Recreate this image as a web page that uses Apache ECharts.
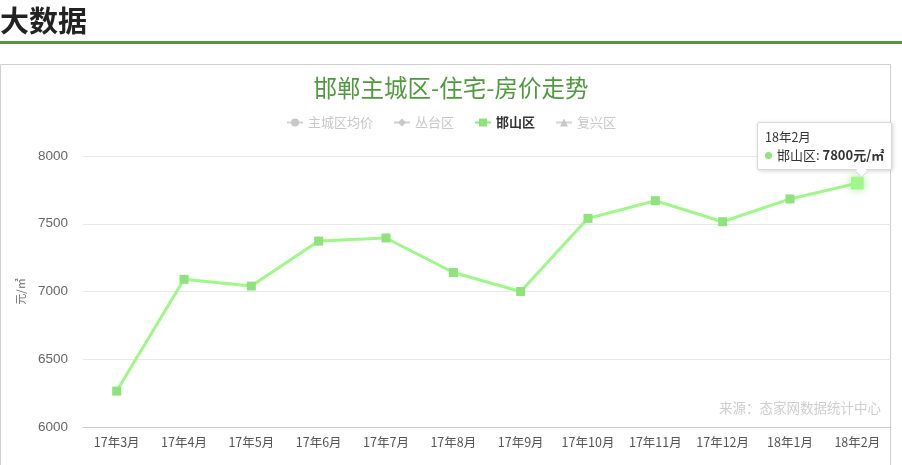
<!DOCTYPE html>
<html>
<head>
<meta charset="utf-8">
<script src="https://cdn.jsdelivr.net/npm/echarts@6/dist/echarts.min.js"></script>
<style>
html,body{margin:0;padding:0;background:#fff;}
#c{width:902px;height:465px;}
</style>
</head>
<body>
<div id="c"></div>
<script>
const categories = ['17年3月','17年4月','17年5月','17年6月','17年7月','17年8月','17年9月','17年10月','17年11月','17年12月','18年1月','18年2月'];
const hanshanValues = [6265, 7090, 7040, 7372, 7395, 7140, 7000, 7540, 7670, 7515, 7683, 7800];
const legendNames = ['主城区均价','丛台区','邯山区','复兴区'];
const yTicks = {min: 6000, max: 8000, interval: 500};
const unit = '元/㎡';

const chart = echarts.init(document.getElementById('c'), null, {renderer: 'canvas'});
const green = '#8fe27c';
const option = {
  animation: false,
  backgroundColor: '#fff',
  graphic: [
    {type: 'text', left: 0, top: 6, style: {text: '大数据', font: 'bold 29px "Noto Sans CJK SC"', fill: '#222'}},
    {type: 'rect', shape: {x: 0, y: 41, width: 902, height: 3}, style: {fill: '#5a9443'}},
    {type: 'rect', shape: {x: 0.5, y: 64.5, width: 890, height: 420}, style: {fill: 'none', stroke: '#cfcfcf', lineWidth: 1}, z: -1},
    {type: 'text', right: 21, top: 401, style: {text: '来源：态家网数据统计中心', font: '13.5px "Noto Sans CJK SC"', fill: '#cfcfcf'}}
  ],
  title: {
    text: '邯郸主城区-住宅-房价走势',
    left: 'center',
    top: 71,
    textStyle: {color: '#4f9a3c', fontSize: 23.5, fontWeight: 'normal', fontFamily: 'Noto Sans CJK SC'}
  },
  legend: {
    data: legendNames.map(function (n, i) {
      return {name: n, textStyle: {fontWeight: i === 2 ? 'bold' : 'normal'}};
    }),
    top: 111,
    left: 'center',
    itemWidth: 16,
    itemHeight: 10,
    itemGap: 20,
    inactiveColor: '#c8c8c8',
    textStyle: {color: '#333', fontSize: 13, fontFamily: 'Noto Sans CJK SC'},
    selected: {'主城区均价': false, '丛台区': false, '邯山区': true, '复兴区': false}
  },
  tooltip: {
    trigger: 'item',
    alwaysShowContent: true,
    transitionDuration: 0,
    backgroundColor: '#fff',
    borderColor: '#d8d8d8',
    borderWidth: 1,
    padding: [5, 7, 5, 7],
    extraCssText: 'box-shadow:1px 1px 4px rgba(0,0,0,0.18);border-radius:2px;overflow:visible;',
    position: function () { return [757, 122]; },
    formatter: function (p) {
      return '<div style="position:relative;font-family:\'Noto Sans CJK SC\';font-size:12.5px;color:#333;line-height:18px;">' +
        p.name + '<br/>' +
        '<span style="display:inline-block;width:7px;height:7px;border-radius:50%;background:' + green + ';margin-right:5px;vertical-align:1px;"></span>' +
        '<span style="font-size:13px;">' + p.seriesName + ': </span><b style="font-size:13px;">' + p.value + unit + '</b>' +
        '<div style="position:absolute;left:92px;bottom:-12px;width:8px;height:8px;background:#fff;border-right:1px solid #d8d8d8;border-bottom:1px solid #d8d8d8;transform:rotate(45deg);"></div>' +
        '</div>';
    }
  },
  grid: {left: 83, right: 11, top: 156, bottom: 38},
  xAxis: {
    type: 'category',
    data: categories,
    boundaryGap: true,
    axisLine: {lineStyle: {color: '#cccccc'}},
    axisTick: {length: 8, interval: 0, lineStyle: {color: '#cccccc'}},
    axisLabel: {color: '#555', fontSize: 12.5, margin: 9, interval: 0, fontFamily: 'Noto Sans CJK SC'}
  },
  yAxis: {
    type: 'value',
    min: yTicks.min,
    max: yTicks.max,
    interval: yTicks.interval,
    name: unit,
    nameLocation: 'middle',
    nameGap: 57,
    nameTextStyle: {color: '#666', fontSize: 11, fontFamily: 'Noto Sans CJK SC'},
    axisLine: {show: false},
    axisTick: {show: false},
    axisLabel: {color: '#666', fontSize: 13.5, margin: 15, formatter: function (v) { return String(v); }},
    splitLine: {lineStyle: {color: '#e8e8e8'}}
  },
  series: [
    {name: legendNames[0], type: 'line', data: [], symbol: 'circle', itemStyle: {color: '#999'}},
    {name: legendNames[1], type: 'line', data: [], symbol: 'diamond', itemStyle: {color: '#999'}},
    {
      name: legendNames[2], type: 'line', data: hanshanValues,
      symbol: 'rect', symbolSize: 9, showAllSymbol: true,
      lineStyle: {color: green, width: 3},
      itemStyle: {color: green},
      emphasis: {scale: 1.4, itemStyle: {shadowBlur: 8, shadowColor: 'rgba(143,226,124,0.8)'}}
    },
    {name: legendNames[3], type: 'line', data: [], symbol: 'triangle', itemStyle: {color: '#999'}}
  ]
};
chart.setOption(option);
chart.dispatchAction({type: 'highlight', seriesIndex: 2, dataIndex: 11});
chart.dispatchAction({type: 'showTip', seriesIndex: 2, dataIndex: 11});
</script>
</body>
</html>
